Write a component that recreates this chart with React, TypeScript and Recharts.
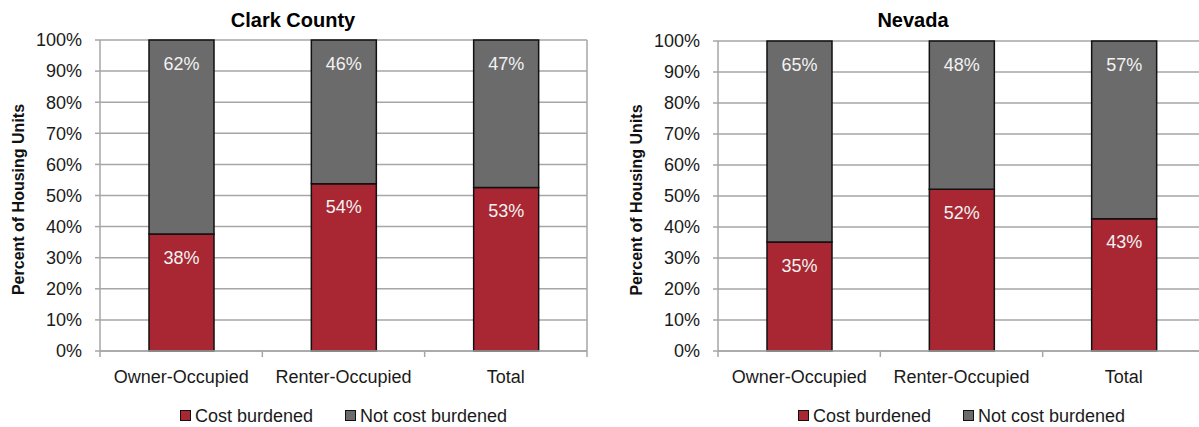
import { BarChart, Bar, XAxis, YAxis, CartesianGrid, Legend, LabelList } from "recharts";

const categories = ["Owner-Occupied", "Renter-Occupied", "Total"];
const clarkBurdened = [37.6, 53.8, 52.6];
const clarkNotBurdened = [62.4, 46.2, 47.4];
const nevadaBurdened = [35.2, 52.2, 42.7];
const nevadaNotBurdened = [64.8, 47.8, 57.3];
const yTicks = [0, 10, 20, 30, 40, 50, 60, 70, 80, 90, 100];
const seriesNames = ["Cost burdened", "Not cost burdened"];

const RED = "#A82733";
const GRAY = "#6B6B6B";
const GRID = "#A6A6A6";
const FONT = "'Liberation Sans', Arial, sans-serif";

const CHART_W = 600;
const CHART_H = 427;
const Y_AXIS_W = 100;
const RIGHT_M = 13;
const PLOT_W = CHART_W - Y_AXIS_W - RIGHT_M;
const HALF_BAND = PLOT_W / categories.length / 2;

function buildRows(burdened: number[], notBurdened: number[]) {
  return categories.map((name, i) => ({
    name,
    burdened: burdened[i],
    notBurdened: notBurdened[i],
  }));
}

const pct = (v: any) => `${Math.round(Number(v))}%`;

function CategoryTick(props: any) {
  const { x, y, payload, index } = props;
  const last = index === categories.length - 1;
  return (
    <g>
      <line x1={x - HALF_BAND} y1={y} x2={x - HALF_BAND} y2={y + 6} stroke={GRID} strokeWidth={1.5} />
      {last && <line x1={x + HALF_BAND} y1={y} x2={x + HALF_BAND} y2={y + 6} stroke={GRID} strokeWidth={1.5} />}
      <text x={x} y={y + 32} textAnchor="middle" fontSize={18} fill="#1a1a1a" fontFamily={FONT}>
        {payload.value}
      </text>
    </g>
  );
}

function LegendBox() {
  const items = [
    { label: seriesNames[0], color: RED },
    { label: seriesNames[1], color: GRAY },
  ];
  return (
    <div style={{ display: "flex", justifyContent: "center", alignItems: "center", height: 30, paddingTop: 7, boxSizing: "border-box", fontFamily: FONT, fontSize: 18, lineHeight: "20px", color: "#1a1a1a" }}>
      {items.map((it, i) => (
        <div key={it.label} style={{ display: "flex", alignItems: "center", marginLeft: i ? 32 : 0 }}>
          <span style={{ width: 9, height: 9, background: it.color, border: "1px solid #111", marginRight: 4, display: "inline-block" }} />
          <span>{it.label}</span>
        </div>
      ))}
    </div>
  );
}

function YTitle(props: any) {
  const { viewBox } = props;
  const cx = viewBox.x + 18;
  const cy = viewBox.y + viewBox.height / 2 + 4;
  return (
    <text x={cx} y={cy} transform={`rotate(-90, ${cx}, ${cy})`} textAnchor="middle" dominantBaseline="central" fontSize={16} fontWeight="bold" fill="#111" fontFamily={FONT}>
      Percent of Housing Units
    </text>
  );
}

function StackedPanel({ rows, top }: { rows: any[]; top: number }) {
  return (
    <BarChart width={CHART_W} height={CHART_H} data={rows} margin={{ top, right: RIGHT_M, left: 0, bottom: 0 }}>
      <CartesianGrid
        stroke={GRID}
        strokeWidth={1.5}
        vertical
        verticalCoordinatesGenerator={({ offset }: any) => [offset.left + offset.width]}
      />
      <XAxis dataKey="name" height={46} tickSize={0} tickMargin={0} tickLine={false} axisLine={{ stroke: GRID, strokeWidth: 1.5 }} tick={<CategoryTick />} interval={0} />
      <YAxis
        width={Y_AXIS_W}
        domain={[0, 100]}
        ticks={yTicks}
        tickFormatter={pct}
        tickSize={5}
        tickMargin={13}
        axisLine={{ stroke: GRID, strokeWidth: 1.5 }}
        tickLine={{ stroke: GRID, strokeWidth: 1.5 }}
        tick={{ fontSize: 18, fill: "#1a1a1a", fontFamily: FONT }}
        label={<YTitle />}
      />
      <Legend verticalAlign="bottom" height={30} content={<LegendBox />} wrapperStyle={{ left: Y_AXIS_W, width: PLOT_W }} />
      <Bar dataKey="burdened" name={seriesNames[0]} stackId="a" fill={RED} stroke="#111" strokeWidth={1.5} barSize={65} isAnimationActive={false}>
        <LabelList dataKey="burdened" position="insideTop" offset={17} formatter={pct} fill="#F2F2F2" fontSize={18} fontFamily={FONT} />
      </Bar>
      <Bar dataKey="notBurdened" name={seriesNames[1]} stackId="a" fill={GRAY} stroke="#111" strokeWidth={1.5} barSize={65} isAnimationActive={false}>
        <LabelList dataKey="notBurdened" position="insideTop" offset={17} formatter={pct} fill="#F2F2F2" fontSize={18} fontFamily={FONT} />
      </Bar>
    </BarChart>
  );
}

const titleStyle: any = {
  position: "absolute",
  top: 10,
  width: 300,
  textAlign: "center",
  fontFamily: FONT,
  fontWeight: "bold",
  fontSize: 20,
  lineHeight: "20px",
  color: "#000",
};

export default function App() {
  const clark = buildRows(clarkBurdened, clarkNotBurdened);
  const nevada = buildRows(nevadaBurdened, nevadaNotBurdened);
  return (
    <div style={{ position: "absolute", left: 0, top: 0, width: 1199, height: 427, overflow: "hidden", background: "#fff" }}>
      <div style={{ position: "absolute", left: 0, top: 0 }}>
        <StackedPanel rows={clark} top={40} />
      </div>
      <div style={{ position: "absolute", left: 618, top: 0 }}>
        <StackedPanel rows={nevada} top={41} />
      </div>
      <div style={{ ...titleStyle, left: 293 - 150 }}>Clark County</div>
      <div style={{ ...titleStyle, left: 913 - 150 }}>Nevada</div>
    </div>
  );
}
